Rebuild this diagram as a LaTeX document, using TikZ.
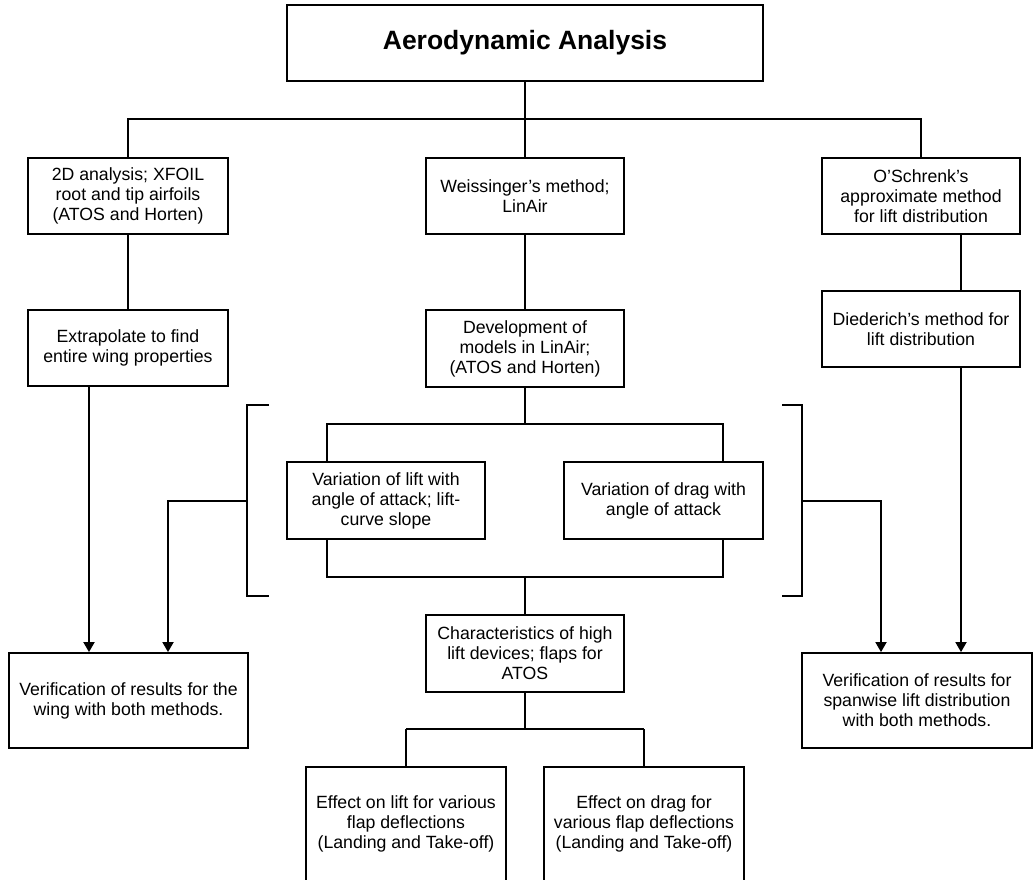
\documentclass[tikz,border=0pt]{standalone}
\usepackage{fontspec}
\setmainfont{Liberation Sans}
\usetikzlibrary{arrows.meta}
\begin{document}
\begin{tikzpicture}[x=1pt,y=-1pt,
  box/.style={draw, line width=1.8pt, inner sep=0pt, align=center,
    font=\fontsize{17.7}{20}\selectfont},
  openbox/.style={inner sep=0pt, align=center, font=\fontsize{17.7}{20}\selectfont},
  conn/.style={line width=1.8pt},
  arr/.style={line width=1.8pt, -{Triangle[length=10pt,width=11pt]}}]
\useasboundingbox[fill=white] (0,0) rectangle (1033,880);
% boxes
\node[box, minimum width=476pt, minimum height=76pt, font=\fontsize{26.5}{30}\selectfont\bfseries] (title) at (525,43) {Aerodynamic Analysis};
\node[box, minimum width=200pt, minimum height=76pt] (b2d) at (128,196) {2D analysis; XFOIL\\root and tip airfoils\\(ATOS and Horten)};
\node[box, minimum width=198pt, minimum height=76pt] (weis) at (525,196) {Weissinger’s method;\\LinAir};
\node[box, minimum width=198pt, minimum height=76pt] (osch) at (921,196) {O’Schrenk’s\\approximate method\\for lift distribution};
\node[box, minimum width=200pt, minimum height=76pt] (extra) at (128,348) {Extrapolate to find\\entire wing properties};
\node[box, minimum width=198pt, minimum height=77pt] (dev) at (525,348.5) {Development of\\models in LinAir;\\(ATOS and Horten)};
\node[box, minimum width=198pt, minimum height=76pt] (died) at (921,329) {Diederich’s method for\\lift distribution};
\node[box, minimum width=198pt, minimum height=77pt] (lift) at (386,500.5) {Variation of lift with\\angle of attack; lift-\\curve slope};
\node[box, minimum width=199pt, minimum height=77pt] (drag) at (663.5,500.5) {Variation of drag with\\angle of attack};
\node[box, minimum width=198pt, minimum height=77pt] (char) at (525,653.5) {Characteristics of high\\lift devices; flaps for\\ATOS};
\node[box, minimum width=239pt, minimum height=95pt] (verL) at (128.5,700.5) {Verification of results for the\\wing with both methods.};
\node[box, minimum width=230pt, minimum height=95pt] (verR) at (917,700.5) {Verification of results for\\spanwise lift distribution\\with both methods.};
\node[openbox, minimum width=200pt, minimum height=113pt] (effL) at (406,823.5) {Effect on lift for various\\flap deflections\\(Landing and Take-off)};
\node[openbox, minimum width=200pt, minimum height=113pt] (effR) at (644,823.5) {Effect on drag for\\various flap deflections\\(Landing and Take-off)};
\draw[conn] (effL.south west) |- (effL.north east) -- (effL.south east);
\draw[conn] (effR.south west) |- (effR.north east) -- (effR.south east);
% top tree
\coordinate (j1) at (525,119);
\draw[conn] (title.south) -- (weis.north);
\draw[conn] (b2d.north) -- (b2d.north |- j1) -- (osch.north |- j1) -- (osch.north);
\draw[conn] (b2d.south) -- (extra.north);
\draw[conn] (weis.south) -- (dev.north);
\coordinate (os) at ([xshift=40pt]osch.south);
\draw[conn] (os) -- (os |- died.north);
% left column arrow
\coordinate (eL) at ([xshift=-39pt]extra.south);
\draw[arr] (eL) -- (eL |- verL.north);
% right column arrow
\coordinate (dR) at ([xshift=40pt]died.south);
\draw[arr] (dR) -- (dR |- verR.north);
% middle group
\coordinate (gt) at (525,424);
\coordinate (gb) at (525,577);
\coordinate (gl) at ([xshift=-59pt]lift.north);
\coordinate (gr) at ([xshift=59.5pt]drag.north);
\draw[conn] (dev.south) -- (gt);
\draw[conn] (gl |- lift.north) -- (gl |- gt) -- (gr |- gt) -- (gr |- drag.north);
\draw[conn] (gl |- lift.south) -- (gl |- gb) -- (gr |- gb) -- (gr |- drag.south);
\draw[conn] (gb) -- (char.north);
% brackets
\coordinate (bl) at (247,501);
\coordinate (br) at (802,501);
\draw[conn] (269,405) -- (247,405) -- (247,596) -- (269,596);
\draw[conn] (782,405) -- (802,405) -- (802,596) -- (782,596);
\coordinate (aL) at (168,501);
\coordinate (aR) at (881,501);
\draw[arr] (bl) -- (aL) -- (aL |- verL.north);
\draw[arr] (br) -- (aR) -- (aR |- verR.north);
% bottom tree
\coordinate (j3) at (525,729);
\draw[conn] (char.south) -- (j3);
\draw[conn] (effL.north |- j3) -- (effR.north |- j3);
\draw[conn] (effL.north |- j3) -- (effL.north);
\draw[conn] (effR.north |- j3) -- (effR.north);
\end{tikzpicture}
\end{document}
